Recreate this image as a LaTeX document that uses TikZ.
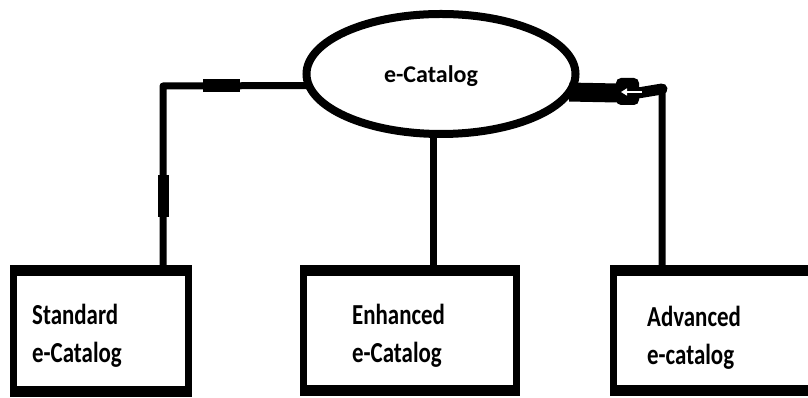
\documentclass[tikz,border=0pt]{standalone}
\usepackage{fontspec}
\setmainfont{Carlito}
\newfontfamily\boxfont[FakeStretch=0.79]{Carlito}
\usetikzlibrary{shapes.geometric,arrows.meta}
\begin{document}
\begin{tikzpicture}[x=1pt,y=1pt,
  conn/.style={line width=7pt, line join=round},
  boxnode/.style={draw, line width=7pt, outer sep=0pt, inner sep=0pt, fill=white},
  edgebar/.style={line width=11pt},
  boxtxt/.style={font=\boxfont\bfseries\fontsize{29}{38}\selectfont, align=left, anchor=base west, inner sep=0pt},
  elltxt/.style={font=\bfseries\fontsize{24}{28}\selectfont, anchor=base, inner sep=0pt}
]
\useasboundingbox (0,0) rectangle (808,398);

% ellipse
\node[ellipse, draw, line width=8pt, minimum width=269pt, minimum height=120pt, inner sep=0pt, outer sep=0pt] (ell) at (441,324) {};
\node[elltxt] (ellt) at (431,315) {e-Catalog};

% boxes
\node[boxnode, minimum width=175pt, minimum height=121pt] (b1) at (101,67) {};
\node[boxnode, minimum width=213pt, minimum height=120pt] (b2) at (410,67.5) {};
\node[boxnode, minimum width=227pt, minimum height=120pt] (b3) at (727,67) {};

% corner coordinates
\coordinate (c1) at (163,312);
\coordinate (r1) at (617,305);
\coordinate (r2) at (638,305);
\coordinate (c3) at (662,309);

% connectors
\draw[conn] (ell.185) -- (c1) -- (c1 |- b1.north);
\draw[conn] (ell.-97) -- (ell.-97 |- b2.north);
\draw[conn] (ell.-8.5) -- (r2) -- (c3) -- (c3 |- b3.north);

% hand-drawn thickenings on the left connector
\coordinate (l1) at (203,312);
\coordinate (l2) at (240,312);
\draw[line width=13pt] (l1) -- (l2);
\coordinate (v1) at (163,223);
\coordinate (v2) at (163,181);
\draw[line width=11pt] (v1) -- (v2);

% arrow-like mark on the right connector
\draw[line width=19pt] (ell.-8.5) -- (r1);
\draw[line width=11pt, line cap=round] (r2) -- (c3);
\coordinate (q1) at (616,293);
\coordinate (q2) at (639,320);
\fill[rounded corners=5pt] (q1) rectangle (q2);
\coordinate (a1) at (642,306);
\coordinate (a2) at (621,306);
\draw[white, line width=2.5pt, -{Triangle[length=6pt,width=7pt]}] (a1) -- (a2);

% thicker top and bottom edges of the boxes
\foreach \b in {b1,b2,b3}{
  \draw[edgebar] ([xshift=-3.5pt]\b.north west) -- ([xshift=3.5pt]\b.north east);
  \draw[edgebar] ([xshift=-3.5pt]\b.south west) -- ([xshift=3.5pt]\b.south east);
}

% box texts (anchor at baseline of the last line)
\node[boxtxt] (t1) at (32,35) {Standard\\e-Catalog};
\node[boxtxt] (t2) at (352,35) {Enhanced\\e-Catalog};
\node[boxtxt] (t3) at (647,33) {Advanced\\e-catalog};
\end{tikzpicture}
\end{document}
